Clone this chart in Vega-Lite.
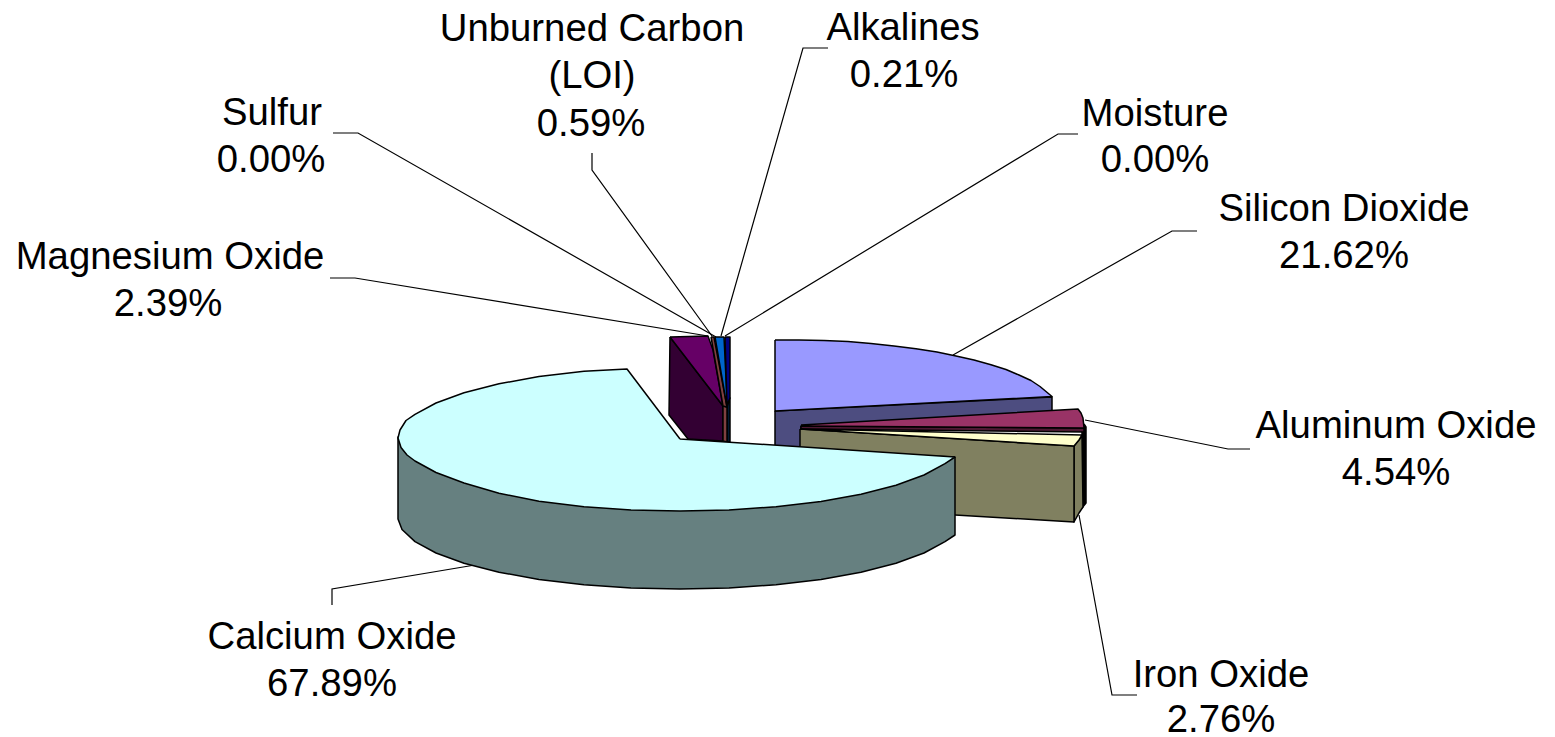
{"$schema":"https://vega.github.io/schema/vega-lite/v6.json","width":1555,"height":737,"padding":0,"autosize":{"type":"none"},"background":"white","view":{"stroke":null},
"datasets":{
"faces":[
{"part":"Moisture wall","seq":1,"x":727,"y":407},{"part":"Moisture wall","seq":2,"x":730,"y":398},{"part":"Moisture wall","seq":3,"x":730,"y":442},{"part":"Moisture wall","seq":4,"x":727,"y":442},{"part":"Moisture wall","seq":5,"x":727,"y":407},
{"part":"Magnesium Oxide wall","seq":1,"x":670,"y":337},{"part":"Magnesium Oxide wall","seq":2,"x":669,"y":415},{"part":"Magnesium Oxide wall","seq":3,"x":688,"y":439},{"part":"Magnesium Oxide wall","seq":4,"x":723,"y":441},{"part":"Magnesium Oxide wall","seq":5,"x":723,"y":406},{"part":"Magnesium Oxide wall","seq":6,"x":670,"y":337},
{"part":"Magnesium Oxide top","seq":1,"x":670,"y":337},{"part":"Magnesium Oxide top","seq":2,"x":708,"y":336},{"part":"Magnesium Oxide top","seq":3,"x":713,"y":350},{"part":"Magnesium Oxide top","seq":4,"x":723,"y":406},{"part":"Magnesium Oxide top","seq":5,"x":670,"y":337},
{"part":"Unburned Carbon wall","seq":1,"x":723,"y":406},{"part":"Unburned Carbon wall","seq":2,"x":727,"y":407},{"part":"Unburned Carbon wall","seq":3,"x":727,"y":442},{"part":"Unburned Carbon wall","seq":4,"x":723,"y":441},{"part":"Unburned Carbon wall","seq":5,"x":723,"y":406},
{"part":"Unburned Carbon top","seq":1,"x":711,"y":337},{"part":"Unburned Carbon top","seq":2,"x":714,"y":337},{"part":"Unburned Carbon top","seq":3,"x":727,"y":407},{"part":"Unburned Carbon top","seq":4,"x":723,"y":406},{"part":"Unburned Carbon top","seq":5,"x":711,"y":337},
{"part":"Alkalines top","seq":1,"x":715,"y":337},{"part":"Alkalines top","seq":2,"x":724,"y":337},{"part":"Alkalines top","seq":3,"x":727,"y":400},{"part":"Alkalines top","seq":4,"x":727,"y":407},{"part":"Alkalines top","seq":5,"x":715,"y":337},
{"part":"Moisture top","seq":1,"x":725,"y":337},{"part":"Moisture top","seq":2,"x":730,"y":337},{"part":"Moisture top","seq":3,"x":730,"y":398},{"part":"Moisture top","seq":4,"x":727,"y":405},{"part":"Moisture top","seq":5,"x":725,"y":337},
{"part":"Silicon Dioxide wall","seq":1,"x":775,"y":411},{"part":"Silicon Dioxide wall","seq":2,"x":1052,"y":397},{"part":"Silicon Dioxide wall","seq":3,"x":1052,"y":412},{"part":"Silicon Dioxide wall","seq":4,"x":801,"y":426},{"part":"Silicon Dioxide wall","seq":5,"x":801,"y":448},{"part":"Silicon Dioxide wall","seq":6,"x":775,"y":446},{"part":"Silicon Dioxide wall","seq":7,"x":775,"y":411},
{"part":"Silicon Dioxide top","seq":1,"x":775,"y":340},{"part":"Silicon Dioxide top","seq":2,"x":799,"y":340},{"part":"Silicon Dioxide top","seq":3,"x":824,"y":340.5},{"part":"Silicon Dioxide top","seq":4,"x":848,"y":341.5},{"part":"Silicon Dioxide top","seq":5,"x":871,"y":343.5},{"part":"Silicon Dioxide top","seq":6,"x":894,"y":346},{"part":"Silicon Dioxide top","seq":7,"x":916,"y":348.8},{"part":"Silicon Dioxide top","seq":8,"x":937,"y":352},{"part":"Silicon Dioxide top","seq":9,"x":956,"y":356},{"part":"Silicon Dioxide top","seq":10,"x":974,"y":360},{"part":"Silicon Dioxide top","seq":11,"x":991,"y":364.7},{"part":"Silicon Dioxide top","seq":12,"x":1006,"y":369.5},{"part":"Silicon Dioxide top","seq":13,"x":1019,"y":375},{"part":"Silicon Dioxide top","seq":14,"x":1031,"y":380.5},{"part":"Silicon Dioxide top","seq":15,"x":1040,"y":386.5},{"part":"Silicon Dioxide top","seq":16,"x":1052,"y":396.5},{"part":"Silicon Dioxide top","seq":17,"x":775,"y":411},{"part":"Silicon Dioxide top","seq":18,"x":775,"y":340},
{"part":"Aluminum Oxide rim","seq":1,"x":1084,"y":424},{"part":"Aluminum Oxide rim","seq":2,"x":1086,"y":427},{"part":"Aluminum Oxide rim","seq":3,"x":1086,"y":503},{"part":"Aluminum Oxide rim","seq":4,"x":1082,"y":508},{"part":"Aluminum Oxide rim","seq":5,"x":1082,"y":431},{"part":"Aluminum Oxide rim","seq":6,"x":1084,"y":424},
{"part":"Aluminum Oxide wall","seq":1,"x":801,"y":426},{"part":"Aluminum Oxide wall","seq":2,"x":1084,"y":428},{"part":"Aluminum Oxide wall","seq":3,"x":1084,"y":432},{"part":"Aluminum Oxide wall","seq":4,"x":801,"y":429},{"part":"Aluminum Oxide wall","seq":5,"x":801,"y":426},
{"part":"Aluminum Oxide top","seq":1,"x":801,"y":425},{"part":"Aluminum Oxide top","seq":2,"x":1078,"y":409},{"part":"Aluminum Oxide top","seq":3,"x":1081,"y":413},{"part":"Aluminum Oxide top","seq":4,"x":1083,"y":418},{"part":"Aluminum Oxide top","seq":5,"x":1084,"y":428},{"part":"Aluminum Oxide top","seq":6,"x":801,"y":426},
{"part":"Iron Oxide rim","seq":1,"x":1074,"y":446},{"part":"Iron Oxide rim","seq":2,"x":1082,"y":436},{"part":"Iron Oxide rim","seq":3,"x":1083,"y":507},{"part":"Iron Oxide rim","seq":4,"x":1079,"y":513},{"part":"Iron Oxide rim","seq":5,"x":1074,"y":522},{"part":"Iron Oxide rim","seq":6,"x":1074,"y":446},
{"part":"Iron Oxide wall","seq":1,"x":800,"y":429},{"part":"Iron Oxide wall","seq":2,"x":1074,"y":446},{"part":"Iron Oxide wall","seq":3,"x":1074,"y":522},{"part":"Iron Oxide wall","seq":4,"x":955,"y":515},{"part":"Iron Oxide wall","seq":5,"x":800,"y":505},{"part":"Iron Oxide wall","seq":6,"x":800,"y":429},
{"part":"Iron Oxide top","seq":1,"x":800,"y":429},{"part":"Iron Oxide top","seq":2,"x":1082,"y":435},{"part":"Iron Oxide top","seq":3,"x":1079,"y":440},{"part":"Iron Oxide top","seq":4,"x":1074,"y":446},{"part":"Iron Oxide top","seq":5,"x":800,"y":429},
{"part":"Calcium Oxide wall","seq":1,"x":955,"y":457},{"part":"Calcium Oxide wall","seq":2,"x":955,"y":535},{"part":"Calcium Oxide wall","seq":3,"x":945,"y":541.6},{"part":"Calcium Oxide wall","seq":4,"x":924,"y":553},{"part":"Calcium Oxide wall","seq":5,"x":896,"y":563.3},{"part":"Calcium Oxide wall","seq":6,"x":861,"y":572.2},{"part":"Calcium Oxide wall","seq":7,"x":821,"y":579.4},{"part":"Calcium Oxide wall","seq":8,"x":776,"y":584.7},{"part":"Calcium Oxide wall","seq":9,"x":729,"y":587.9},{"part":"Calcium Oxide wall","seq":10,"x":680,"y":589},{"part":"Calcium Oxide wall","seq":11,"x":631,"y":587.9},{"part":"Calcium Oxide wall","seq":12,"x":584,"y":584.7},{"part":"Calcium Oxide wall","seq":13,"x":539,"y":579.4},{"part":"Calcium Oxide wall","seq":14,"x":499,"y":572.2},{"part":"Calcium Oxide wall","seq":15,"x":464,"y":563.3},{"part":"Calcium Oxide wall","seq":16,"x":436,"y":553},{"part":"Calcium Oxide wall","seq":17,"x":415,"y":541.6},{"part":"Calcium Oxide wall","seq":18,"x":402,"y":529.5},{"part":"Calcium Oxide wall","seq":19,"x":398,"y":519},{"part":"Calcium Oxide wall","seq":20,"x":398,"y":437},{"part":"Calcium Oxide wall","seq":21,"x":955,"y":457},
{"part":"Calcium Oxide top","seq":1,"x":680,"y":439},{"part":"Calcium Oxide top","seq":2,"x":955,"y":457},{"part":"Calcium Oxide top","seq":3,"x":945,"y":463.6},{"part":"Calcium Oxide top","seq":4,"x":924,"y":475},{"part":"Calcium Oxide top","seq":5,"x":896,"y":485.3},{"part":"Calcium Oxide top","seq":6,"x":861,"y":494.2},{"part":"Calcium Oxide top","seq":7,"x":821,"y":501.4},{"part":"Calcium Oxide top","seq":8,"x":776,"y":506.7},{"part":"Calcium Oxide top","seq":9,"x":729,"y":509.9},{"part":"Calcium Oxide top","seq":10,"x":680,"y":511},{"part":"Calcium Oxide top","seq":11,"x":631,"y":509.9},{"part":"Calcium Oxide top","seq":12,"x":584,"y":506.7},{"part":"Calcium Oxide top","seq":13,"x":539,"y":501.2},{"part":"Calcium Oxide top","seq":14,"x":499,"y":493.2},{"part":"Calcium Oxide top","seq":15,"x":464,"y":483},{"part":"Calcium Oxide top","seq":16,"x":436,"y":472.5},{"part":"Calcium Oxide top","seq":17,"x":415,"y":461},{"part":"Calcium Oxide top","seq":18,"x":407,"y":455},{"part":"Calcium Oxide top","seq":19,"x":401,"y":447.5},{"part":"Calcium Oxide top","seq":20,"x":398,"y":438},{"part":"Calcium Oxide top","seq":21,"x":400,"y":430},{"part":"Calcium Oxide top","seq":22,"x":406,"y":420.5},{"part":"Calcium Oxide top","seq":23,"x":415,"y":414.4},{"part":"Calcium Oxide top","seq":24,"x":436,"y":403},{"part":"Calcium Oxide top","seq":25,"x":464,"y":392.7},{"part":"Calcium Oxide top","seq":26,"x":499,"y":383.8},{"part":"Calcium Oxide top","seq":27,"x":539,"y":376.6},{"part":"Calcium Oxide top","seq":28,"x":584,"y":371.3},{"part":"Calcium Oxide top","seq":29,"x":627,"y":369},{"part":"Calcium Oxide top","seq":30,"x":680,"y":439}
],
"leaders":[
{"slice":"Sulfur","seq":1,"x":333,"y":133},{"slice":"Sulfur","seq":2,"x":358,"y":133},{"slice":"Sulfur","seq":3,"x":716,"y":337},
{"slice":"Magnesium Oxide","seq":1,"x":330,"y":278},{"slice":"Magnesium Oxide","seq":2,"x":355,"y":278},{"slice":"Magnesium Oxide","seq":3,"x":708,"y":336},
{"slice":"Unburned Carbon","seq":1,"x":592,"y":153},{"slice":"Unburned Carbon","seq":2,"x":592,"y":170},{"slice":"Unburned Carbon","seq":3,"x":712,"y":336},
{"slice":"Alkalines","seq":1,"x":828,"y":48},{"slice":"Alkalines","seq":2,"x":803,"y":48},{"slice":"Alkalines","seq":3,"x":721,"y":336},
{"slice":"Moisture","seq":1,"x":1078,"y":134},{"slice":"Moisture","seq":2,"x":1058,"y":134},{"slice":"Moisture","seq":3,"x":725,"y":336},
{"slice":"Silicon Dioxide","seq":1,"x":1197,"y":231},{"slice":"Silicon Dioxide","seq":2,"x":1172,"y":231},{"slice":"Silicon Dioxide","seq":3,"x":953,"y":355},
{"slice":"Aluminum Oxide","seq":1,"x":1250,"y":449},{"slice":"Aluminum Oxide","seq":2,"x":1228,"y":449},{"slice":"Aluminum Oxide","seq":3,"x":1085,"y":420},
{"slice":"Iron Oxide","seq":1,"x":1137,"y":695},{"slice":"Iron Oxide","seq":2,"x":1112,"y":695},{"slice":"Iron Oxide","seq":3,"x":1079,"y":515},
{"slice":"Calcium Oxide","seq":1,"x":332,"y":605},{"slice":"Calcium Oxide","seq":2,"x":332,"y":589},{"slice":"Calcium Oxide","seq":3,"x":475,"y":565}
],
"names":[
{"text":"Unburned Carbon","x":592,"y":30},{"text":"(LOI)","x":592,"y":77},{"text":"Alkalines","x":903,"y":29},{"text":"Sulfur","x":272,"y":114},{"text":"Moisture","x":1155,"y":115},{"text":"Silicon Dioxide","x":1344,"y":210},{"text":"Magnesium Oxide","x":170,"y":258},{"text":"Aluminum Oxide","x":1396,"y":427},{"text":"Calcium Oxide","x":332,"y":638},{"text":"Iron Oxide","x":1221,"y":676}
],
"shares":[
{"slice":"Unburned Carbon","share":0.0059,"x":591,"y":125},{"slice":"Alkalines","share":0.0021,"x":904,"y":76},{"slice":"Sulfur","share":0,"x":271,"y":161},{"slice":"Moisture","share":0,"x":1155,"y":161},{"slice":"Silicon Dioxide","share":0.2162,"x":1344,"y":257},{"slice":"Magnesium Oxide","share":0.0239,"x":168,"y":305},{"slice":"Aluminum Oxide","share":0.0454,"x":1396,"y":474},{"slice":"Calcium Oxide","share":0.6789,"x":332,"y":685},{"slice":"Iron Oxide","share":0.0276,"x":1221,"y":721}
]},
"layer":[
{"data":{"name":"leaders"},"mark":{"type":"line","stroke":"#000000","strokeWidth":1.2,"clip":false},
"encoding":{"x":{"field":"x","type":"quantitative","scale":{"domain":[0,1555],"nice":false,"zero":false},"axis":null},"y":{"field":"y","type":"quantitative","scale":{"domain":[737,0],"nice":false,"zero":false},"axis":null},"detail":{"field":"slice"},"order":{"field":"seq"}}},
{"data":{"name":"faces"},"mark":{"type":"line","stroke":"#000000","strokeWidth":1.5,"strokeJoin":"round"},
"encoding":{"x":{"field":"x","type":"quantitative"},"y":{"field":"y","type":"quantitative"},"order":{"field":"seq"},
"fill":{"field":"part","type":"nominal","legend":null,"sort":null,"scale":{"domain":["Moisture wall","Magnesium Oxide wall","Magnesium Oxide top","Unburned Carbon wall","Unburned Carbon top","Alkalines top","Moisture top","Silicon Dioxide wall","Silicon Dioxide top","Aluminum Oxide rim","Aluminum Oxide wall","Aluminum Oxide top","Iron Oxide rim","Iron Oxide wall","Iron Oxide top","Calcium Oxide wall","Calcium Oxide top"],"range":["#001a33","#330033","#660066","#804040","#804040","#0066cc","#000080","#4d4d80","#9999ff","#000000","#4d1933","#993366","#808060","#808060","#ffffcc","#668080","#ccffff"]}}}},
{"data":{"name":"names"},"mark":{"type":"text","font":"Liberation Sans","fontSize":38.3,"baseline":"middle","align":"center","color":"#000000"},
"encoding":{"x":{"field":"x","type":"quantitative"},"y":{"field":"y","type":"quantitative"},"text":{"field":"text"}}},
{"data":{"name":"shares"},"mark":{"type":"text","font":"Liberation Sans","fontSize":38.3,"baseline":"middle","align":"center","color":"#000000"},
"encoding":{"x":{"field":"x","type":"quantitative"},"y":{"field":"y","type":"quantitative"},"text":{"field":"share","type":"quantitative","format":".2%"}}}
]}
